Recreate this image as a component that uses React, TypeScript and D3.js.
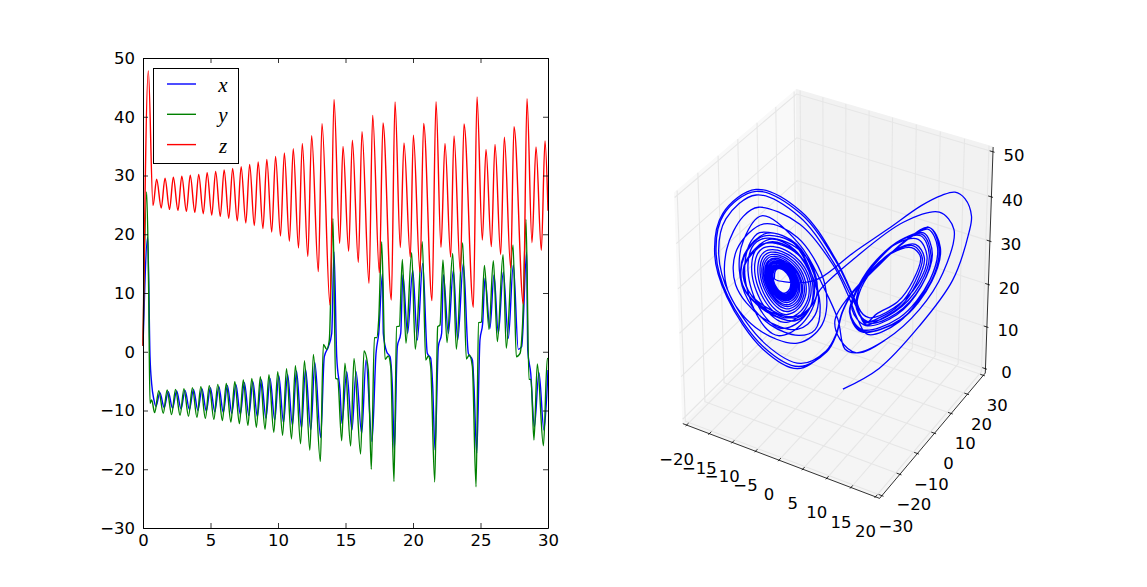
// Lorenz trajectory: x, y, z against time on the left, the same trajectory in 3D on the right
import * as d3 from "d3";
import { useRef, useEffect } from "react";

// turning points
const timesX = [0,0.35,0.52,0.64,0.81,0.96,1.25,1.57,1.87,2.187,2.49,2.815,3.115,3.44,3.74,4.065,4.365,4.69,4.99,5.32,5.62,5.95,6.25,6.58,6.88,7.21,7.51,7.84,8.14,8.47,8.77,9.11,9.41,9.76,10.06,10.41,10.71,11.07,11.37,11.74,12.04,12.43,12.73,13.16,13.43,13.73,13.98,14.15,14.35,14.59,14.74,15.09,15.48,15.78,16.2,16.52,16.96,17.26,17.46,17.74,17.8,18.05,18.3,18.47,18.62,18.84,19.09,19.25,19.6,19.98,20.32,20.72,21.06,21.31,21.46,21.63,21.88,22.12,22.25,22.62,22.99,23.31,23.73,24.1,24.4,24.52,24.72,24.96,25.16,25.33,25.7,26.0,26.32,26.69,27.06,27.43,27.8,28.05,28.42,28.5,28.72,28.99,29.33,29.7,30];
const valuesX = [1,19.5,-0.84,-5.4,-8.2,-9.3,-6.97,-9.5,-6.8,-9.6,-6.68,-9.7,-6.57,-9.85,-6.4,-10,-6.28,-10.1,-6.11,-10.2,-5.94,-10.35,-5.72,-10.5,-5.55,-10.65,-5.26,-10.85,-5.09,-11.05,-4.81,-11.3,-4.53,-11.6,-4.07,-12.1,-3.84,-12.5,-3.28,-13,-2.99,-13.3,-1.86,-14.6,-0.84,0.86,3.13,17,-0.84,-6.5,-12.2,-3.39,-13.32,-3.39,-13.9,-1.4,-15.3,-0.27,3.1,13.3,3.13,0,-0.84,-5.94,-16.7,0.86,3.13,13.06,3.13,13.9,2,15.05,-0.27,-1.12,-5.94,-16.7,0.86,3.13,13.1,3.13,13.9,2,15.05,-0.27,-1.4,-5.94,-17.3,2,4.83,12.5,3.99,13.06,3.13,13.6,2.28,14.76,0.41,0.86,17,0.3,-3.67,-12.75,-3.56,-13.32,-3.1];

const timesY = [0,0.272,0.42,0.518,0.642,0.864,1.17,1.5,1.79,2.117,2.41,2.745,3.035,3.37,3.66,3.995,4.285,4.62,4.91,5.25,5.54,5.88,6.17,6.51,6.8,7.14,7.43,7.77,8.06,8.4,8.69,9.04,9.33,9.69,9.98,10.34,10.63,11,11.29,11.67,11.96,12.36,12.62,13.14,13.36,13.61,13.8,14.07,14.27,14.42,14.72,14.96,15.38,15.63,16.12,16.37,16.69,16.91,17.14,17.31,17.46,17.68,17.93,18.17,18.35,18.59,18.79,18.99,19.21,19.48,19.9,20.17,20.69,20.94,21.14,21.31,21.61,21.83,22,22.22,22.52,22.94,23.21,23.68,23.95,24.17,24.4,24.67,24.86,25.06,25.29,25.63,25.95,26.25,26.67,26.91,27.41,27.65,27.93,28.12,28.37,28.59,28.74,28.96,29.21,29.66,29.95,30];
const valuesY = [1,27.2,10.5,-8.78,-8.2,-10.37,-6.63,-10.48,-6.51,-10.71,-6.4,-10.82,-6.28,-10.99,-6.11,-11.16,-5.94,-11.33,-5.77,-11.5,-5.55,-11.73,-5.38,-11.96,-5.09,-12.24,-4.81,-12.53,-4.53,-12.87,-4.24,-13.21,-3.9,-13.72,-3.39,-14.23,-2.88,-14.85,-2.37,-15.65,-1.52,-16.78,-0.44,-18.71,1.26,0.41,2,22.7,-4.53,-4.64,-15.14,-1.97,-16.04,-1.12,-17.4,0.13,-3.11,-20.01,2.4,2.4,5.4,18.74,-1.29,-0.72,-2.54,-22.1,4.27,4.38,15.73,1.43,16.87,0.41,18.74,-1.4,-0.72,-2.54,-22.17,4.27,4.55,15.62,1.55,16.75,0.41,18.57,-1.24,-0.55,-2.54,-22.97,4.95,5.06,14.71,3.81,15.5,1.72,16.53,0.58,18.17,-0.84,-0.27,4.8,22.54,-4.7,-4.7,-15.02,-2.09,-15.99,-1.12,-1.3];

const timesZ = [0,0.395,0.741,1.012,1.35,1.63,1.965,2.247,2.59,2.875,3.215,3.5,3.84,4.125,4.465,4.75,5.095,5.38,5.725,6.01,6.355,6.64,6.985,7.27,7.615,7.9,8.245,8.53,8.885,9.17,9.535,9.82,10.185,10.47,10.845,11.13,11.52,11.8,12.21,12.49,12.988,13.259,13.852,14.148,14.568,14.815,15.235,15.507,15.951,16.222,16.741,17.012,17.507,17.778,18.395,18.667,19.062,19.333,19.803,20.025,20.519,20.79,21.407,21.704,22.074,22.37,22.79,23.037,23.506,23.778,24.47,24.741,25.136,25.407,25.802,26.074,26.494,26.765,27.235,27.481,28.173,28.444,28.815,29.111,29.506,29.778,30];
const valuesZ = [1,47.8,24.87,29.35,24.47,29.52,24.24,29.69,24.07,29.86,23.9,30.03,23.73,30.2,23.5,30.48,23.28,30.71,23.05,30.94,22.71,31.22,22.26,31.5,21.92,31.9,21.46,32.3,20.95,32.75,20.38,33.26,19.7,33.83,18.8,34.57,17.66,35.47,16.2,36.78,13.63,38.82,7.96,42.96,18.45,34.96,17.1,36,15.22,37.46,11.65,40.24,13.46,38.94,8.81,42.51,17.72,35.53,16.07,36.84,13.52,38.88,8.7,42.57,17.77,35.47,16.13,36.72,13.63,38.77,7.56,43.36,19,34.45,17.89,35.3,16.53,36.5,14.26,38.31,8.13,43.08,18.57,34.85,17.26,35.87,24];

// 3D curve. The picture only fixes x+y, so x and y are taken equal here.
// first transit, start to the entry of the left spiral
const earlyXY = [1,6.65,12.77,17.81,20.1,20.41,19.34,17.81,15.83,12.77,7.72,2.52,-2.52,-5.58];
const earlyZ = [1,5.6,15.1,25.5,36.1,39.8,43.7,45.2,44.6,42.5,37.5,32.5,27.1,26.2];
// everything after the long spiral (t > 12.5)
const lateXY = [
  -7.11,-3.75,-2.52,-3.29,-5.89,-10.17,-13.53,-14.76,-13.99,-11.24,-5.58,-1.76,0.23,1.3,3.13,7.72,12.77,16.28,17.81,15.52,10.17,2.52,-2.52,
  -3.75,-6.04,-10.17,-13.53,-13.99,-10.17,-6.35,-3.75,-4.05,-6.35,-10.93,-14.3,-13.99,-10.47,-6.04,-2.98,-3.29,-6.04,-11.39,-15.37,-15.06,-10.93,-5.89,-1.76,-2.22,-6.04,-12.46,-16.6,-16.6,-13.99,-11.7,-5.58,-0.54,1.76,3.29,4.82,
  9.71,14.3,15.37,13.84,10.17,6.19,2.37,0.84,-0.08,-1.61,
  -5.58,-10.93,-16.29,-17.81,-16.6,-12,-5.58,-0.54,2.37,4.51,
  6.64,9.71,12,13.07,11.7,8.64,5.12,3.29,
  3.13,4.82,8.95,12.77,14.14,12.77,9.4,5.43,2.83,
  2.06,3.9,9.71,14.3,15.37,13.84,10.17,6.19,2.37,0.84,-0.08,-1.61,
  -6.04,-11.39,-16.74,-18.42,-17.05,-12,-5.28,-0.08,2.83,4.51,
  6.9,10,12.3,13.4,12,8.9,5.4,3.5,
  3.2,5,9.2,13,14.4,13,9.7,5.6,3,
  2.1,4,10,14.5,15.6,14,10.4,6.3,2.5,0.9,0,-1.5,
  -5.9,-11.2,-16.6,-18.2,-16.9,-12,-5.4,-0.2,2.7,4.4,
  6.3,9.4,11.7,12.8,11.4,8.4,5,3.3,
  3.4,5,8.8,12.5,13.8,12.4,9.2,5.3,3,
  2.4,4.5,9.3,13,14.6,13.2,9.8,5.7,2.9,
  2,3.8,10,14.6,15.8,14,10.2,6,2.2,
  -0.23,0.54,3.13,7.72,12.77,16.28,17.81,15.52,10.17,2.52,-2.52,
  -3.75,-6,-10.17,-13.5,-13.9,-10.2,-6.4,-3.8,-4,-6.3,-10.9,-14.3,-14,-11,-6.1,-3,
];
const lateZ = [
  36.1,27.9,21,15.3,14.1,16.8,22.7,29.6,36.4,41.5,34.8,24.3,17.4,10.5,9.5,12.4,19,27.2,36.9,40.9,39,31,24.4,
  21,18.2,20.3,25,30.7,36.2,33.7,26.7,20.4,17.5,20.3,26.2,33,37.6,34.9,25.6,18.7,15.5,18.5,26.3,34.2,39.7,36.4,25.5,16.4,12.3,16.3,25.2,34.3,41.5,43.4,39.4,30,23,17.2,13.7,
  16.4,25.7,33,37.2,34.4,29.1,23.4,19,14,10.2,
  7.5,12.3,24,33.2,41.1,46.1,41,30.7,22.3,16.7,
  17.5,20.3,25.4,30.8,33.6,32.4,28.1,23.6,
  19.5,16.7,18.7,24.7,31.4,35.8,34.7,29.6,23.4,
  19.1,14.9,17.3,25.7,33,37.2,34.4,29.1,23.4,19,14,10.2,
  6.3,11.2,23.6,33.3,42.3,47.3,42.1,31.1,21.8,16,
  17.2,20.1,25.2,30.7,33.9,32.8,28.3,23.4,
  19.2,16.3,18.3,24.4,31.2,36.1,35,29.8,23.5,
  19,14.5,17,25.4,33,37.6,34.8,29.3,23.5,19,14,10,
  6.8,11.6,23.8,33.4,42.1,46.9,41.7,31,22,16.4,
  18.5,21,25.7,31,33.2,32.1,27.9,23.6,
  20,17.6,19.6,25,31,35,34.3,29.4,23.6,
  19.6,15.8,18,24.3,31.6,36.4,35,29.6,23.4,
  19,14.4,16.9,25.4,33,37.6,34.4,29,23.2,
  17.4,12.8,9.5,12.4,19,27.2,36.9,40.9,39,31,24.4,
  21,18.6,19.8,25,30.7,35.6,33.5,27,20.6,17.6,20,26,32.5,37,34.7,24.4,
];

const legendLabels = ["x", "y", "z"];
const seriesColors = ["#0000ff", "#008000", "#ff0000"];

const timeTicks = [0, 5, 10, 15, 20, 25, 30];
const valueTicks = [-30, -20, -10, 0, 10, 20, 30, 40, 50];

const xTicks3d = [-20, -15, -10, -5, 0, 5, 10, 15, 20];
const yTicks3d = [-30, -20, -10, 0, 10, 20, 30];
const zTicks3d = [0, 10, 20, 30, 40, 50];

const width = 1147;
const height = 587;
const plot = { left: 143, right: 548, top: 58, bottom: 528 };
const tickFont = "'DejaVu Sans', sans-serif";
const tickSize = 16.5;

const timeScale = d3.scaleLinear().domain([0, 30]).range([plot.left, plot.right]);
const valueScale = d3.scaleLinear().domain([-30, 50]).range([plot.bottom, plot.top]);

// 3D: matplotlib's default view (elev 30, azim -60, dist 10), panes go 1/48 past the limits
const xLim = [-20, 20];
const yLim = [-30, 30];
const zLim = [0, 50];
const pad = (lim: number[]) => {
  const d = (lim[1] - lim[0]) / 48;
  return [lim[0] - d, lim[1] + d];
};
const xEdge = pad(xLim);
const yEdge = pad(yLim);
const zEdge = pad(zLim);

const xNorm = d3.scaleLinear().domain(xLim).range([-0.5, 0.5]);
const yNorm = d3.scaleLinear().domain(yLim).range([-0.5, 0.5]);
const zNorm = d3.scaleLinear().domain(zLim).range([-0.5, 0.5]);
const screenX = d3.scaleLinear().domain([-0.0704, 0.0681]).range([683, 985]);
const screenY = d3.scaleLinear().domain([-0.0835, 0.0777]).range([498, 90]);

function project(x: number, y: number, z: number): [number, number] {
  const a = xNorm(x);
  const b = yNorm(y);
  const c = zNorm(z);
  const w = 10 - (0.433 * a - 0.75 * b + 0.5 * c);
  return [
    screenX((0.866 * a + 0.5 * b) / w),
    screenY((-0.25 * a + 0.433 * b + 0.866 * c) / w),
  ];
}

const line3d = d3.line();
const path3d = (pts: number[][]) =>
  line3d(pts.map((p) => project(p[0], p[1], p[2]))) as string;

// same monotone cubic as d3.curveMonotoneX, so the spiral can read the three series at one time
function reader(ts: number[], vs: number[]) {
  const n = ts.length;
  const sl = d3.range(n - 1).map((i) => (vs[i + 1] - vs[i]) / (ts[i + 1] - ts[i]));
  const m = new Array(n).fill(0);
  for (let i = 1; i < n - 1; i++) {
    const h0 = ts[i] - ts[i - 1];
    const h1 = ts[i + 1] - ts[i];
    const p = (sl[i - 1] * h1 + sl[i] * h0) / (h0 + h1);
    m[i] =
      (Math.sign(sl[i - 1]) + Math.sign(sl[i])) *
        Math.min(Math.abs(sl[i - 1]), Math.abs(sl[i]), 0.5 * Math.abs(p)) || 0;
  }
  m[0] = (3 * sl[0] - m[1]) / 2;
  m[n - 1] = (3 * sl[n - 2] - m[n - 2]) / 2;
  const find = d3.bisector((d: number) => d).right;
  return (t: number) => {
    const i = Math.min(n - 2, Math.max(0, find(ts, t) - 1));
    const h = ts[i + 1] - ts[i];
    const u = (t - ts[i]) / h;
    return (
      (2 * u ** 3 - 3 * u ** 2 + 1) * vs[i] +
      (u ** 3 - 2 * u ** 2 + u) * h * m[i] +
      (-2 * u ** 3 + 3 * u ** 2) * vs[i + 1] +
      (u ** 3 - u ** 2) * h * m[i + 1]
    );
  };
}

const readX = reader(timesX, valuesX);
const readY = reader(timesY, valuesY);
const readZ = reader(timesZ, valuesZ);

// the long left spiral comes from the series, the rest from the arrays above
const trajectory = [
  ...earlyXY.map((v, i) => project(v, v, earlyZ[i])),
  ...d3.range(0.9, 12.49, 0.02).map((t) => project(readX(t), readY(t), readZ(t))),
  ...lateXY.map((v, i) => project(v, v, lateZ[i])),
];
const trajectoryLine = d3.line().curve(d3.curveCatmullRom.alpha(0.5));

const series = [
  { ts: timesX, vs: valuesX },
  { ts: timesY, vs: valuesY },
  { ts: timesZ, vs: valuesZ },
];
const timeLine = d3
  .line<number[]>()
  .x((d) => timeScale(d[0]))
  .y((d) => valueScale(d[1]))
  .curve(d3.curveMonotoneX);

const panes = [
  { fill: "#f9f9f9", pts: [[xEdge[0], yEdge[0], zEdge[0]], [xEdge[0], yEdge[1], zEdge[0]], [xEdge[0], yEdge[1], zEdge[1]], [xEdge[0], yEdge[0], zEdge[1]]] },
  { fill: "#f2f2f2", pts: [[xEdge[0], yEdge[1], zEdge[0]], [xEdge[1], yEdge[1], zEdge[0]], [xEdge[1], yEdge[1], zEdge[1]], [xEdge[0], yEdge[1], zEdge[1]]] },
  { fill: "#f5f5f5", pts: [[xEdge[0], yEdge[0], zEdge[0]], [xEdge[1], yEdge[0], zEdge[0]], [xEdge[1], yEdge[1], zEdge[0]], [xEdge[0], yEdge[1], zEdge[0]]] },
];

const grid3d = [
  ...xTicks3d.map((t) => [[t, yEdge[0], zEdge[0]], [t, yEdge[1], zEdge[0]], [t, yEdge[1], zEdge[1]]]),
  ...yTicks3d.map((t) => [[xEdge[1], t, zEdge[0]], [xEdge[0], t, zEdge[0]], [xEdge[0], t, zEdge[1]]]),
  ...zTicks3d.map((t) => [[xEdge[0], yEdge[0], t], [xEdge[0], yEdge[1], t], [xEdge[1], yEdge[1], t]]),
];

const axes3d = [
  [[xEdge[0], yEdge[0], zEdge[0]], [xEdge[1], yEdge[0], zEdge[0]]],
  [[xEdge[1], yEdge[0], zEdge[0]], [xEdge[1], yEdge[1], zEdge[0]]],
  [[xEdge[1], yEdge[1], zEdge[0]], [xEdge[1], yEdge[1], zEdge[1]]],
];

const ticks3d = [
  ...xTicks3d.map((t) => [[t, yEdge[0] - 0.5, zEdge[0]], [t, yEdge[0] + 1, zEdge[0]]]),
  ...yTicks3d.map((t) => [[xEdge[1] - 0.67, t, zEdge[0]], [xEdge[1] + 0.33, t, zEdge[0]]]),
  ...zTicks3d.map((t) => [[xEdge[1] - 0.67, yEdge[1], t], [xEdge[1] + 0.33, yEdge[1], t]]),
];

const fmt = d3.format("d");

const labels3d = [
  ...xTicks3d.map((t) => {
    const [a, b] = project(t, yEdge[0], zEdge[0]);
    return { text: fmt(t), x: a - 10, y: b + 40 };
  }),
  ...yTicks3d.map((t) => {
    const [a, b] = project(xEdge[1], t, zEdge[0]);
    return { text: fmt(t), x: a + 14, y: b + 36 };
  }),
  ...zTicks3d.map((t) => {
    const [a, b] = project(xEdge[1], yEdge[1], t);
    return { text: fmt(t), x: a + 21, y: b + 9 };
  }),
];

export default function App() {
  const axesRef = useRef<SVGGElement>(null);

  useEffect(() => {
    const g = d3.select(axesRef.current);
    const style = (s: any) => {
      s.attr("font-size", tickSize).attr("font-family", tickFont);
      s.selectAll("path").attr("stroke", "#000").attr("stroke-width", 1);
      s.selectAll("line").attr("stroke", "#000").attr("stroke-width", 0.8);
    };
    g.select<SVGGElement>(".bottom")
      .attr("transform", `translate(0,${plot.bottom})`)
      .call(d3.axisBottom(timeScale).tickValues(timeTicks).tickSize(-5).tickSizeOuter(0).tickPadding(6))
      .call(style);
    g.select<SVGGElement>(".top")
      .attr("transform", `translate(0,${plot.top})`)
      .call(d3.axisTop(timeScale).tickValues(timeTicks).tickSize(-5).tickSizeOuter(0).tickFormat(() => ""))
      .call(style);
    g.select<SVGGElement>(".left")
      .attr("transform", `translate(${plot.left},0)`)
      .call(d3.axisLeft(valueScale).tickValues(valueTicks).tickSize(-5).tickSizeOuter(0).tickPadding(8))
      .call(style);
    g.select<SVGGElement>(".right")
      .attr("transform", `translate(${plot.right},0)`)
      .call(d3.axisRight(valueScale).tickValues(valueTicks).tickSize(-5).tickSizeOuter(0).tickFormat(() => ""))
      .call(style);
  }, []);

  return (
    <svg
      width={width}
      height={height}
      style={{ position: "absolute", left: 0, top: 0, background: "#fff" }}
    >
      {/* left panel */}
      {series.map((s, i) => (
        <path
          key={i}
          d={timeLine(s.ts.map((t, j) => [t, s.vs[j]])) as string}
          fill="none"
          stroke={seriesColors[i]}
          strokeWidth={1.4}
        />
      ))}
      <g ref={axesRef}>
        <g className="bottom" />
        <g className="top" />
        <g className="left" />
        <g className="right" />
      </g>

      {/* legend */}
      <rect x={153.5} y={68.5} width={85} height={95} fill="#fff" stroke="#000" strokeWidth={1} />
      {legendLabels.map((label, i) => (
        <g key={label}>
          <line
            x1={167}
            x2={196}
            y1={84 + i * 30.3}
            y2={84 + i * 30.3}
            stroke={seriesColors[i]}
            strokeWidth={1.4}
          />
          <text
            x={223}
            y={84 + i * 30.3 + 8}
            textAnchor="middle"
            fontFamily="'Liberation Serif', serif"
            fontStyle="italic"
            fontSize={21}
          >
            {label}
          </text>
        </g>
      ))}

      {/* right panel */}
      {panes.map((p, i) => (
        <path key={i} d={path3d(p.pts) + "Z"} fill={p.fill} stroke={p.fill} strokeWidth={1} />
      ))}
      {grid3d.map((pts, i) => (
        <path key={i} d={path3d(pts)} fill="none" stroke="#e6e6e6" strokeWidth={1.1} />
      ))}
      {axes3d.map((pts, i) => (
        <path key={i} d={path3d(pts)} fill="none" stroke="#000" strokeWidth={0.8} />
      ))}
      {ticks3d.map((pts, i) => (
        <path key={i} d={path3d(pts)} fill="none" stroke="#000" strokeWidth={0.8} />
      ))}
      <path d={trajectoryLine(trajectory) as string} fill="none" stroke="#0000ff" strokeWidth={1.3} />
      {labels3d.map((l, i) => (
        <text key={i} x={l.x} y={l.y} textAnchor="middle" fontFamily={tickFont} fontSize={tickSize}>
          {l.text}
        </text>
      ))}
    </svg>
  );
}
